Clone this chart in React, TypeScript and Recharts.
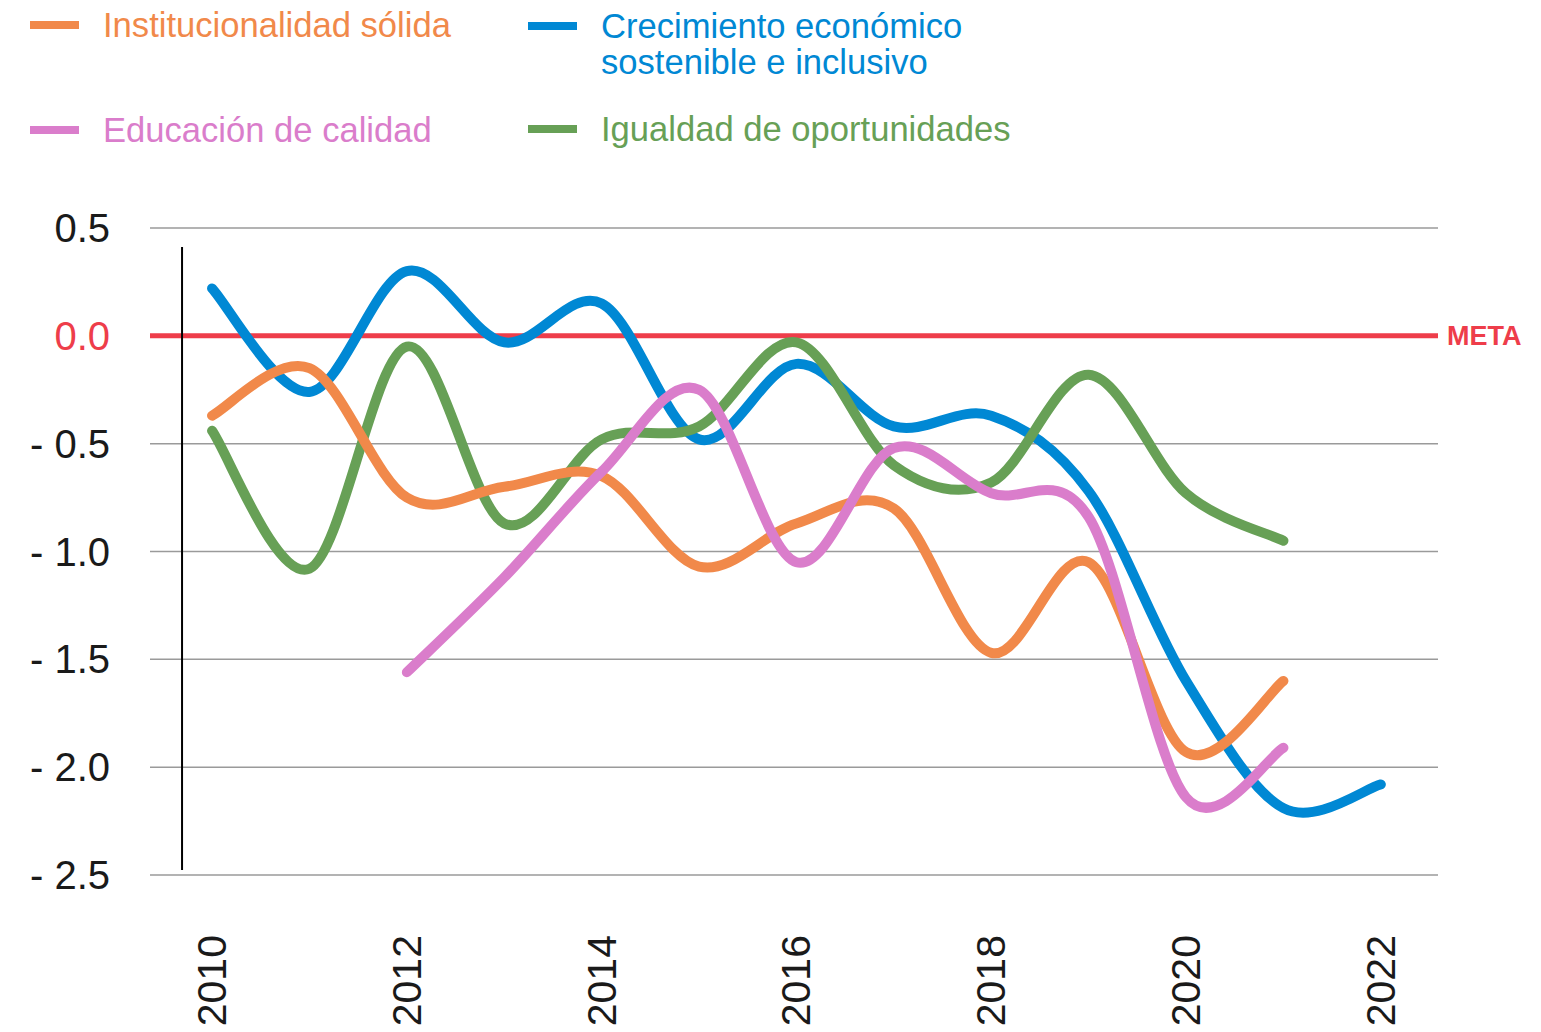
import React from "react";
import { LineChart, Line, XAxis, YAxis, CartesianGrid, ReferenceLine } from "recharts";

// values (index per year)
const YEARS = [2010, 2011, 2012, 2013, 2014, 2015, 2016, 2017, 2018, 2019, 2020, 2021, 2022];
const INSTITUCIONALIDAD = [-0.37, -0.15, -0.75, -0.7, -0.65, -1.07, -0.87, -0.8, -1.47, -1.05, -1.93, -1.6, null];
const CRECIMIENTO = [0.22, -0.26, 0.3, -0.03, 0.15, -0.48, -0.13, -0.42, -0.37, -0.72, -1.6, -2.19, -2.08];
const EDUCACION = [null, null, -1.56, -1.12, -0.63, -0.25, -1.05, -0.52, -0.73, -0.84, -2.14, -1.91, null];
const IGUALDAD = [-0.44, -1.08, -0.05, -0.87, -0.48, -0.42, -0.03, -0.6, -0.68, -0.18, -0.73, -0.95, null];

const X_TICKS = [2010, 2012, 2014, 2016, 2018, 2020, 2022];
const Y_TICKS = [0.5, 0, -0.5, -1, -1.5, -2, -2.5];

const RED = "#ee3d4a";
const FONT = "'Liberation Sans', Arial, sans-serif";

const SERIES = [
  { key: "crecimiento", name: "Crecimiento económico\nsostenible e inclusivo", color: "#0088d4" },
  { key: "igualdad", name: "Igualdad de oportunidades", color: "#67a056" },
  { key: "institucionalidad", name: "Institucionalidad sólida", color: "#f1894a" },
  { key: "educacion", name: "Educación de calidad", color: "#da7dcb" },
];

const data = YEARS.map((year, i) => ({
  year,
  institucionalidad: INSTITUCIONALIDAD[i],
  crecimiento: CRECIMIENTO[i],
  educacion: EDUCACION[i],
  igualdad: IGUALDAD[i],
}));

// Excel-like smoothed line (Catmull-Rom through the points)
const excelSmooth = (context: any) => {
  let pts: number[][] = [];
  return {
    areaStart() {},
    areaEnd() {},
    lineStart() {
      pts = [];
    },
    point(x: number, y: number) {
      pts.push([+x, +y]);
    },
    lineEnd() {
      const n = pts.length;
      if (!n) return;
      context.moveTo(pts[0][0], pts[0][1]);
      for (let i = 0; i < n - 1; i++) {
        const p0 = pts[Math.max(i - 1, 0)];
        const p1 = pts[i];
        const p2 = pts[i + 1];
        const p3 = pts[Math.min(i + 2, n - 1)];
        context.bezierCurveTo(
          p1[0] + (p2[0] - p0[0]) / 6,
          p1[1] + (p2[1] - p0[1]) / 6,
          p2[0] - (p3[0] - p1[0]) / 6,
          p2[1] - (p3[1] - p1[1]) / 6,
          p2[0],
          p2[1]
        );
      }
    },
  };
};

const fmtY = (v: number) => (v < 0 ? `- ${Math.abs(v).toFixed(1)}` : v.toFixed(1));

const YTick = ({ x, y, payload }: any) => (
  <text
    x={x}
    y={y}
    textAnchor="end"
    dominantBaseline="central"
    fontFamily={FONT}
    fontSize={40}
    fill={payload.value === 0 ? RED : "#1a1a1a"}
  >
    {fmtY(payload.value)}
  </text>
);

const XTick = ({ x, y, payload }: any) => (
  <text
    x={x}
    y={y}
    transform={`rotate(-90, ${x}, ${y})`}
    textAnchor="end"
    dominantBaseline="central"
    fontFamily={FONT}
    fontSize={41}
    fill="#1a1a1a"
  >
    {payload.value}
  </text>
);

const LEGEND_POS: Record<string, { left: number; top: number }> = {
  institucionalidad: { left: 30, top: 7 },
  crecimiento: { left: 528, top: 8 },
  educacion: { left: 30, top: 112 },
  igualdad: { left: 528, top: 111 },
};

export default function App() {
  return (
    <div style={{ position: "absolute", left: 0, top: 0, width: 1541, height: 1032, background: "#fff" }}>
      <LineChart width={1541} height={1032} data={data} margin={{ top: 228, right: 103, bottom: 0, left: 0 }}>
        <CartesianGrid horizontal vertical={false} stroke="#9a9a9a" strokeWidth={1.5} />
        <XAxis
          dataKey="year"
          type="number"
          domain={[2009.363, 2022.587]}
          ticks={X_TICKS}
          allowDataOverflow
          axisLine={false}
          tickLine={false}
          tickSize={0}
          tickMargin={60}
          height={157}
          interval={0}
          tick={<XTick />}
        />
        <YAxis
          type="number"
          domain={[-2.5, 0.5]}
          ticks={Y_TICKS}
          axisLine={false}
          tickLine={false}
          tickSize={0}
          tickMargin={40}
          width={150}
          interval={0}
          tick={<YTick />}
        />
        <ReferenceLine
          y={0}
          stroke={RED}
          strokeWidth={5}
          label={{ value: "META", position: "right", offset: 9, fill: RED, fontSize: 27, fontWeight: 700, fontFamily: FONT }}
        />
        <ReferenceLine
          segment={[
            { x: 2009.692, y: 0.412 },
            { x: 2009.692, y: -2.477 },
          ]}
          stroke="#000"
          strokeWidth={2}
        />
        {SERIES.map((s) => (
          <Line
            key={s.key}
            dataKey={s.key}
            name={s.name}
            type={excelSmooth as any}
            stroke={s.color}
            strokeWidth={10}
            strokeLinecap="round"
            strokeLinejoin="round"
            dot={false}
            activeDot={false}
            isAnimationActive={false}
          />
        ))}
      </LineChart>
      {SERIES.map((s) => {
        const p = LEGEND_POS[s.key];
        return (
          <div key={s.key}>
            <div
              style={{
                position: "absolute",
                left: p.left,
                top: p.top + 14,
                width: 49,
                height: 8,
                background: s.color,
              }}
            />
            <div
              style={{
                position: "absolute",
                left: p.left + 73,
                top: p.top,
                fontFamily: FONT,
                fontSize: 34.6,
                lineHeight: "36px",
                color: s.color,
                whiteSpace: "pre",
              }}
            >
              {s.name}
            </div>
          </div>
        );
      })}
    </div>
  );
}
